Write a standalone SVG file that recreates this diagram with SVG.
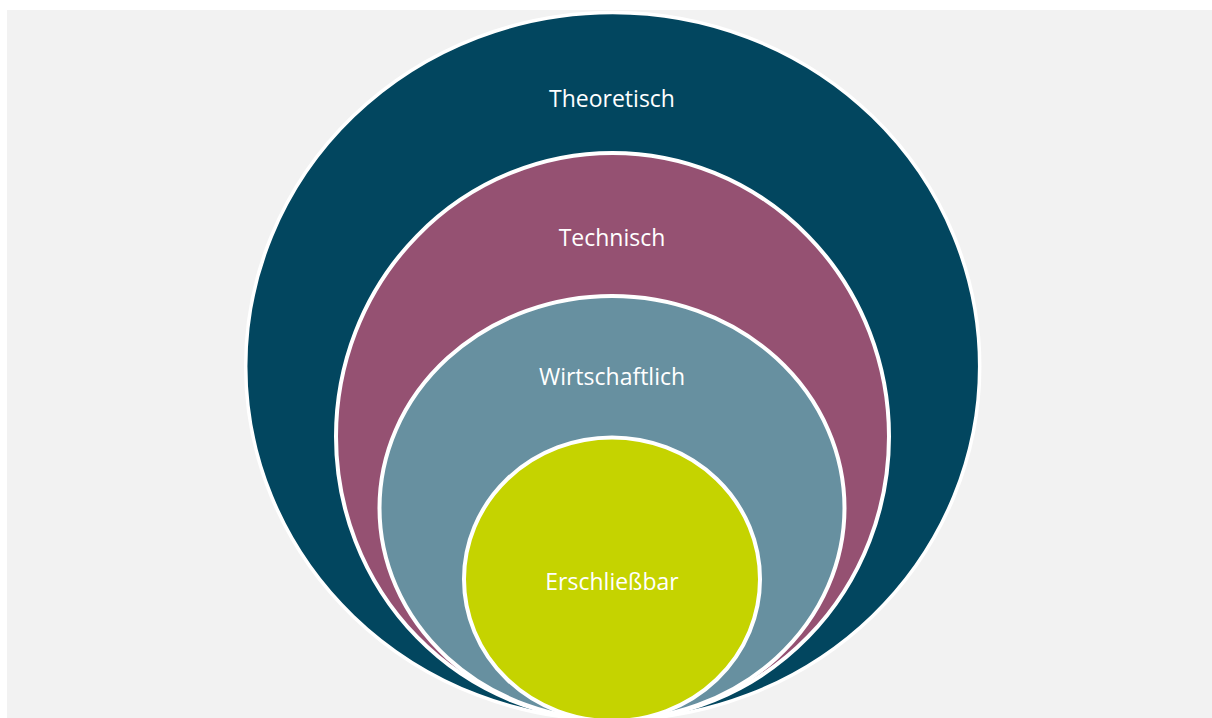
<svg xmlns="http://www.w3.org/2000/svg" width="1212" height="718" viewBox="0 0 1212 718">
<style>
.ring{stroke:#ffffff;stroke-width:4}
.lbl{font-family:"Open Sans","Liberation Sans",sans-serif;font-size:23px;fill:#ffffff;text-anchor:middle}
</style>
<rect x="0" y="0" width="1212" height="718" fill="#ffffff"/>
<rect id="background" x="7" y="10" width="1205" height="708" fill="#f2f2f2"/>
<g id="theoretisch">
<ellipse class="ring" cx="612.7" cy="366.25" rx="367" ry="353.75" fill="#02465f" style="stroke-width:3.5"/>
<text class="lbl" x="612" y="107">Theoretisch</text>
</g>
<g id="technisch">
<ellipse class="ring" cx="612.5" cy="436.5" rx="276.5" ry="283.5" fill="#955172"/>
<text class="lbl" x="612" y="246">Technisch</text>
</g>
<g id="wirtschaftlich">
<ellipse class="ring" cx="612" cy="508" rx="232.5" ry="212" fill="#6790a0"/>
<text class="lbl" x="612" y="385">Wirtschaftlich</text>
</g>
<g id="erschliessbar">
<ellipse class="ring" cx="612" cy="579.25" rx="148" ry="141.75" fill="#c5d300"/>
<text class="lbl" x="612" y="590">Erschließbar</text>
</g>
<g id="connectors"/>
</svg>
